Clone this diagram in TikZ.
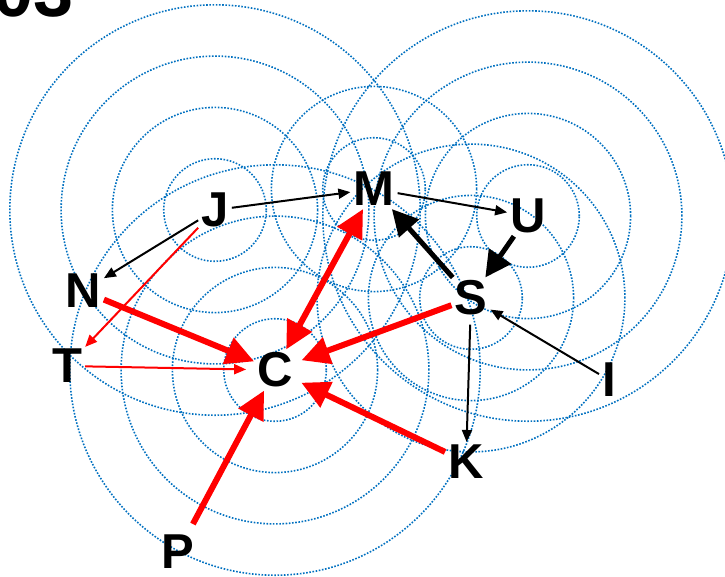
\documentclass[tikz,border=0pt]{standalone}
\usepackage{fontspec}
\setmainfont{Liberation Sans}
\usepackage{xcolor}
\usetikzlibrary{arrows.meta,backgrounds}
\definecolor{ringblue}{RGB}{0,112,192}

\begin{document}
\begin{tikzpicture}[x=1pt,y=-1pt,
    lbl/.style={font=\fontsize{49}{49}\selectfont\bfseries,inner sep=3pt},
    ring/.style={draw=ringblue,line width=1.6pt,dash pattern=on 1.6pt off 1.6pt},
    thinblack/.style={line width=2pt,-{Triangle[length=12pt,width=10pt]}},
    thickblack/.style={line width=5pt,-{Triangle[length=26pt,width=26pt]}},
    thinred/.style={red,line width=2pt,-{Triangle[length=12pt,width=10pt]}},
    thickred/.style={red,line width=6pt,-{Triangle[length=28pt,width=27pt]}},
    thickredboth/.style={thickred,{Triangle[length=28pt,width=27pt]}-{Triangle[length=28pt,width=27pt]}}]
  \useasboundingbox (0,0) rectangle (725,576);
  \node[anchor=base west,inner sep=0pt,font=\fontsize{72}{72}\selectfont\bfseries] (tag) at (-7,16) {03};

  \node[lbl] (J) at (215,210) {J};
  \node[lbl] (M) at (374,189) {M};
  \node[lbl] (U) at (528,216) {U};
  \node[lbl] (S) at (471,298) {S};
  \node[lbl] (N) at (83,291) {N};
  \node[lbl] (T) at (67,366) {T};
  \node[lbl] (C) at (275,370) {C};
  \node[lbl] (K) at (466,462) {K};
  \node[lbl] (P) at (178,552) {P};
  \node[lbl] (I) at (609,380) {I};

  % rings round the hubs
  \begin{pgfonlayer}{background}
    \foreach \c/\n in {J/4,U/4,C/4,S/3,M/2}
      \foreach \k in {1,...,\n}
        \draw[ring] (\c) circle[radius=\k*51.3pt];
  \end{pgfonlayer}

  \draw[thinblack] (J) -- (M);
  \draw[thinblack] (M) -- (U);
  \draw[thinblack] (J) -- (N);
  \draw[thinblack,shorten <=6pt] (S) -- (K);
  \draw[thinblack] (I) -- (S);
  \draw[thickblack] (S) -- (M);
  \draw[thickblack] (U) -- (S);

  \draw[thinred] (J) -- (T);
  \draw[thinred,shorten >=8pt] (T) -- (C);
  \draw[thickred] (N) -- (C);
  \draw[thickredboth] (C) -- (M);
  \draw[thickred,shorten >=6pt] (S) -- (C);
  \draw[thickred,shorten >=6pt] (K) -- (C);
  \draw[thickred,shorten <=9pt] (P) -- (C);
\end{tikzpicture}
\end{document}
